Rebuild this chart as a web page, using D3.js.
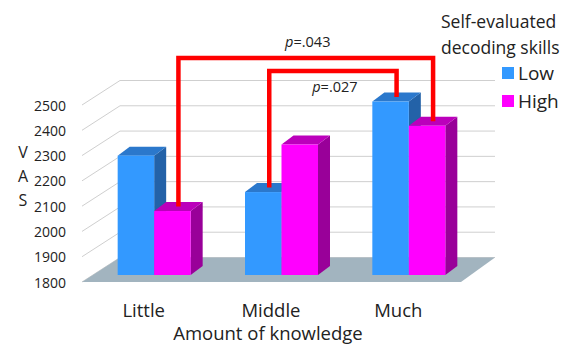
<!DOCTYPE html>
<html>
<head>
<meta charset="utf-8">
<script src="https://cdn.jsdelivr.net/npm/d3@7/dist/d3.min.js"></script>
<style>
  html, body { margin: 0; padding: 0; background: #fff; }
  svg { display: block; font-family: "Open Sans", "Noto Sans", sans-serif; }
</style>
</head>
<body>
<svg id="chart" width="564" height="344"></svg>
<script>
// VAS by amount of knowledge, split by self-evaluated decoding skills
const categories = ["Little", "Middle", "Much"];
const seriesNames = ["Low", "High"];
const lowValues = [2272, 2128, 2486];
const highValues = [2053, 2316, 2390];
const yTicks = [1800, 1900, 2000, 2100, 2200, 2300, 2400, 2500];
// significance comparisons: [category index, series index] pairs
const pLabels = ["=.043", "=.027"];
const pFrom = [[0, 1], [1, 0]];
const pTo = [[2, 1], [2, 0]];

const colors = {
  Low:  { front: "#3399ff", top: "#2b78cc", side: "#2362a8" },
  High: { front: "#ff00ff", top: "#bb00bb", side: "#990099" }
};

const svg = d3.select("#chart");
const values = [lowValues, highValues];

// front plane of the floor (tick labels) and depth offset to the back wall
const yFront = d3.scaleLinear().domain([1800, 2500]).range([282, 105]);
const depthX = 38, depthY = 24.5;
const wallLeft = 82 + depthX, wallRight = 495;

// category bands along the floor's front edge
const xBand = d3.scaleBand().domain(categories).range([80, 462]);
// bar plane sits partly into the floor depth
const yBar = d3.scaleLinear().domain([1800, 2500]).range([275, 98]);
const barShift = 10.5, barW = 36.5, barDx = 12, barDy = 9;

// gridlines on the back wall and left wall
const grid = svg.append("g").attr("stroke", "#cfcfcf").attr("stroke-width", 1).attr("fill", "none");
yTicks.forEach(v => {
  const yf = yFront(v), yb = yf - depthY;
  grid.append("line").attr("x1", wallLeft).attr("x2", wallRight).attr("y1", yb).attr("y2", yb);
  grid.append("line").attr("x1", 82).attr("y1", yf).attr("x2", wallLeft).attr("y2", yb);
});

// floor
const fy = yFront(1800);
svg.append("polygon")
  .attr("points", [[82, fy], [461, fy], [wallRight, fy - depthY], [wallLeft, fy - depthY]].join(" "))
  .attr("fill", "#a2b4bf");

// y axis tick labels
svg.append("g").selectAll("text").data(yTicks).join("text")
  .attr("x", 66).attr("y", d => yFront(d))
  .attr("text-anchor", "end").attr("dominant-baseline", "central")
  .attr("font-size", 14).attr("fill", "#222")
  .text(d => d);

// stacked y axis title
svg.append("g").selectAll("text").data(["V", "A", "S"]).join("text")
  .attr("x", 23).attr("y", (d, i) => 152 + i * 24)
  .attr("text-anchor", "middle").attr("dominant-baseline", "central")
  .attr("font-size", 16).attr("fill", "#222")
  .text(d => d);

// bars as extruded boxes
const barX = (ci, si) => xBand(categories[ci]) + xBand.bandwidth() / 2 + barShift - barW + si * barW;
const bars = svg.append("g");
categories.forEach((c, ci) => {
  seriesNames.forEach((s, si) => {
    const v = values[si][ci];
    const x = barX(ci, si), y = yBar(v), b = yBar(1800), col = colors[s];
    const g = bars.append("g");
    g.append("polygon")
      .attr("points", [[x + barW, y], [x + barW + barDx, y - barDy], [x + barW + barDx, b - barDy], [x + barW, b]].join(" "))
      .attr("fill", col.side);
    g.append("polygon")
      .attr("points", [[x, y], [x + barDx, y - barDy], [x + barW + barDx, y - barDy], [x + barW, y]].join(" "))
      .attr("fill", col.top);
    g.append("rect").attr("x", x).attr("y", y).attr("width", barW).attr("height", b - y).attr("fill", col.front);
  });
});

// category labels and x axis title
svg.append("g").selectAll("text").data(categories).join("text")
  .attr("x", d => xBand(d) + xBand.bandwidth() / 2).attr("y", 309)
  .attr("text-anchor", "middle").attr("dominant-baseline", "central")
  .attr("font-size", 18.5).attr("fill", "#222")
  .text(d => d);
svg.append("text")
  .attr("x", 268).attr("y", 332)
  .attr("text-anchor", "middle").attr("dominant-baseline", "central")
  .attr("font-size", 18.5).attr("fill", "#222")
  .text("Amount of knowledge");

// significance brackets, ending on the centre of each bar's top face
const topCenter = ([ci, si]) => ({
  x: barX(ci, si) + barW / 2 + barDx / 2,
  y: yBar(values[si][ci]) - barDy / 2
});
const bracketY = [58, 71];
const labelY = [41, 86];
const brackets = svg.append("g");
pLabels.forEach((lab, i) => {
  const a = topCenter(pFrom[i]), b = topCenter(pTo[i]);
  brackets.append("path")
    .attr("d", `M${a.x},${a.y}V${bracketY[i]}H${b.x}V${b.y}`)
    .attr("fill", "none").attr("stroke", "#ff0000").attr("stroke-width", 4.5)
    .attr("stroke-linejoin", "miter");
  const t = brackets.append("text")
    .attr("x", (a.x + b.x) / 2 + 2).attr("y", labelY[i])
    .attr("text-anchor", "middle").attr("dominant-baseline", "central")
    .attr("font-size", 14.5).attr("fill", "#222");
  t.append("tspan").attr("font-style", "italic").text("p");
  t.append("tspan").text(lab);
});

// legend
const legend = svg.append("g");
legend.append("text").attr("x", 441).attr("y", 21).attr("dominant-baseline", "central")
  .attr("font-size", 17.5).attr("fill", "#222").text("Self-evaluated");
legend.append("text").attr("x", 441).attr("y", 47).attr("dominant-baseline", "central")
  .attr("font-size", 17.5).attr("fill", "#222").text("decoding skills");
seriesNames.forEach((s, i) => {
  legend.append("rect").attr("x", 502).attr("y", 67 + i * 28).attr("width", 12).attr("height", 12)
    .attr("fill", colors[s].front);
  legend.append("text").attr("x", 518).attr("y", 73 + i * 28).attr("dominant-baseline", "central")
    .attr("font-size", 19).attr("fill", "#222").text(s);
});
</script>
</body>
</html>
